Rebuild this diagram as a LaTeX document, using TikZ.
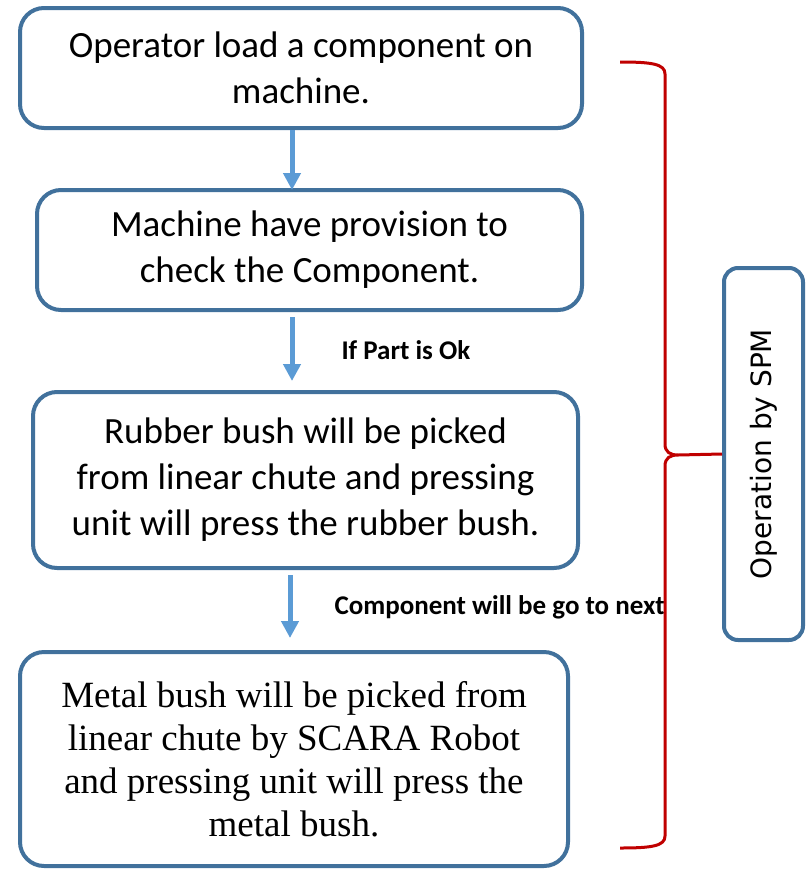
\documentclass[tikz,border=0pt]{standalone}
\usepackage{fontspec}
\setmainfont{Carlito}
\newfontfamily\timesfont{Liberation Serif}
\newfontfamily\spmfont{DejaVu Sans}
\usetikzlibrary{positioning, arrows.meta, calc}

\definecolor{boxblue}{RGB}{65,113,156}
\definecolor{flowblue}{RGB}{91,155,213}
\definecolor{bracered}{RGB}{192,0,0}

\begin{document}
\begin{tikzpicture}[
    x=1pt, y=-1pt,
    step box/.style={
        rectangle,
        draw=boxblue,
        line width=4pt,
        rounded corners=24pt,
        align=center,
        inner sep=0pt,
        font=\fontsize{37}{46}\selectfont
    },
    flow/.style={
        draw=flowblue,
        line width=5pt,
        -{Triangle[width=17pt,length=17pt]}
    },
    cond/.style={
        font=\bfseries\fontsize{27}{30}\selectfont,
        anchor=west
    }
]
    \useasboundingbox (0,0) rectangle (806,871);

    % Process steps
    \node[step box, minimum width=562pt, minimum height=120pt] (load) at (301,68)
        {Operator load a component on\\machine.};
    \node[step box, minimum width=545pt, minimum height=120pt] (check) at (309.5,250)
        {Machine have provision to\\check the Component.};
    \node[step box, minimum width=545pt, minimum height=176pt] (rubber) at (305.5,480)
        {Rubber bush will be picked\\from linear chute and pressing\\unit will press the rubber bush.};
    \node[step box, minimum width=548pt, minimum height=214pt,
          font=\timesfont\fontsize{37}{43}\selectfont] (metal) at (294,759)
        {Metal bush will be picked from\\linear chute by SCARA Robot\\and pressing unit will press the\\metal bush.};

    % Side box
    \node[step box, rounded corners=14pt, minimum width=79pt, minimum height=372pt] (spm) at (763.5,454) {};
    \node[rotate=90, font=\spmfont\fontsize{28}{32}\selectfont] at (spm.center) {Operation by SPM};

    % Arrows
    \coordinate (a1) at (292,0);
    \coordinate (a3) at (290,0);
    \draw[flow] (load.south -| a1) -- ($(check.north -| a1)+(0,2)$);
    \draw[flow] ($(check.south -| a1)+(0,5)$) -- ($(rubber.north -| a1)+(0,-9)$);
    \draw[flow] ($(rubber.south -| a3)+(0,5)$) -- ($(metal.north -| a3)+(0,-12)$);

    \node[cond] at (338,350) {If Part is Ok};
    \node[cond] at (331,607) {Component will be go to next};

    % Brace
    \coordinate (tip) at (678,455);
    \draw[bracered, line width=3pt]
        (620,62) .. controls (652,62) and (665,64) .. (665,74)
        -- (665,444) .. controls (665,452) and (670,455) .. (tip)
        .. controls (670,455) and (665,458) .. (665,466)
        -- (665,836) .. controls (665,846) and (652,848) .. (620,848);
    \draw[bracered, line width=3pt] (tip) -- (spm.west);
\end{tikzpicture}
\end{document}
